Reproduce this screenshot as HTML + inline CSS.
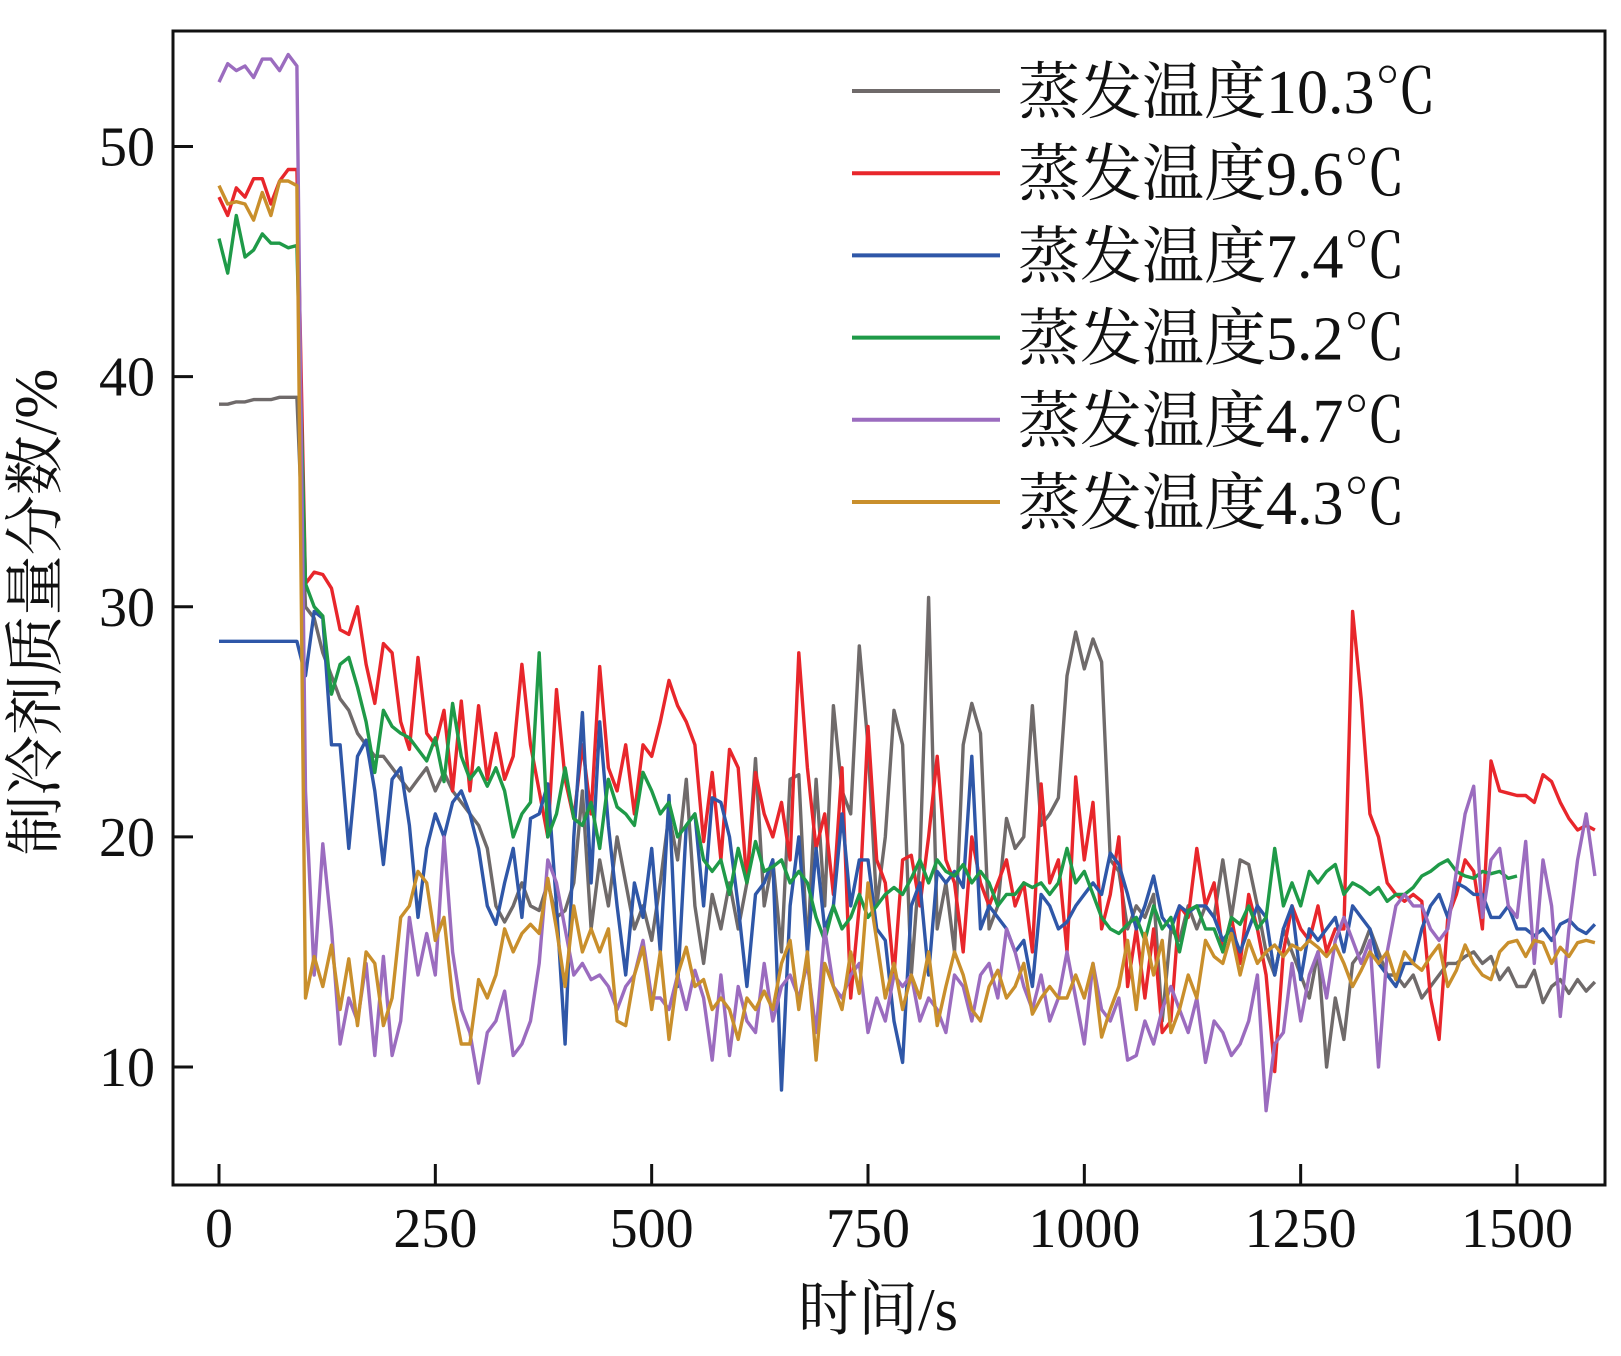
<!DOCTYPE html>
<html><head><meta charset="utf-8"><style>
html,body{margin:0;padding:0;background:#fff;}
svg{display:block;}
text{font-family:"Liberation Serif","Noto Serif CJK SC",serif;fill:#111;}
</style></head><body>
<svg id="chart" width="1621" height="1356" viewBox="0 0 1621 1356">
<rect x="0" y="0" width="1621" height="1356" fill="#fff"/>
<g id="series"></g>
<g id="axes"></g>
<g id="legend"></g>
</svg>
<script>
const xTicks=[0,250,500,750,1000,1250,1500];
const yTicks=[10,20,30,40,50];
const seriesNames=["蒸发温度10.3℃","蒸发温度9.6℃","蒸发温度7.4℃","蒸发温度5.2℃","蒸发温度4.7℃","蒸发温度4.3℃"];
const timeStep=10;
const gray=[38.8,38.8,38.9,38.9,39,39,39,39.1,39.1,39.1,30,29.5,28,27,26,25.5,24.5,24,23.5,23.5,23,22.5,22,22.5,23,22,22.8,22,21.5,21,20.5,19.5,17,16.3,17,18,17,16.8,18,16.5,16.8,18,22,16,19,17,20,18,16,17,15.5,18,21,19,22.5,17,14.5,17.5,16,18,16,18,23.4,17,19,15,22.5,22.7,15,22.5,17,25.7,22,21,28.3,24,17,20,25.5,24,14,19,30.4,16,18,15,24,25.8,24.5,16,17,20.8,19.5,20,25.7,20.5,21,21.7,27,28.9,27.3,28.6,27.6,19,18.5,16,17,16.5,17.5,12,16,15.5,17,16,17,16.5,19,16.5,19,18.8,17,15,14,16,15,14,13,15,10,13,11.2,14.5,15,16,15,14,14,13.5,14,13,13.5,14,14.5,14.5,14.8,15,14.5,14.8,13.8,14.3,13.5,13.5,14.2,12.8,13.5,13.8,13.2,13.8,13.3,13.7];
const red=[47.8,47,48.2,47.8,48.6,48.6,47.5,48.5,49,49,31,31.5,31.4,30.8,29,28.8,30,27.5,25.8,28.4,28,25,23.8,27.8,24.5,24,25.5,22,25.9,22,25.7,22.5,24.5,22.5,23.5,27.5,24,22,20,26.4,22.5,20.8,24,21,27.4,23,22,24,21,24,23.5,25,26.8,25.7,25,24,19.8,22.8,19,23.8,23,18,22.8,21,20,21.5,19,28,23,19.5,21,17.5,23,13,17,24.8,19,18,14,19,19.2,17,20,23.5,19,18,15,20,18,17,18,19,17,18,15,22.3,18,19,15,22.6,19,21.5,16,17.5,20,13.5,16,13,16,11.5,12,17,16.5,19.5,17,18,15,16.5,14.5,17.5,16,14,9.8,15,17,16,15.5,17,15,16,16,29.8,26,21,20,18,17.5,17.2,17.5,17.2,13,11.2,16.5,17.5,19,18.5,16,23.3,22,21.9,21.8,21.8,21.5,22.7,22.4,21.5,20.8,20.3,20.5,20.3];
const blue=[28.5,28.5,28.5,28.5,28.5,28.5,28.5,28.5,28.5,28.5,27,29.8,29.5,24,24,19.5,23.5,24.2,22,18.8,22.5,23,20.5,16.5,19.5,21,20,21.5,22,21,19.5,17,16.2,18,19.5,16.5,20.8,21,22.3,17,11,20,25.4,18,25,20.5,17,14,18,16.5,19.5,15,21.8,13.5,20.5,21,17,21.7,21.5,20,17,13.5,17.5,18,19,9,17,20,15,19.5,16,17,21,17,19,19,16,15.5,12,10.2,17,18,14,18.5,18,18.5,17.8,23.5,16,17,16.5,16,15,15.5,13.5,17.5,17,16,16.3,17,17.5,18,17.5,19.3,18.8,17.5,16,17,18.3,16.5,16,17,16.7,17,17,16.5,15.5,16,15,16,17,16.5,14,16,17,13.8,16,15.5,16,16.5,15,17,16.5,16,14.5,14,13.5,14.5,14.5,16,17,17.5,16.5,18,17.8,17.5,17.5,16.5,16.5,17,16,16,15.7,16,15.5,16.2,16.4,16,15.8,16.2];
const green=[46,44.5,47,45.2,45.5,46.2,45.8,45.8,45.6,45.7,31,30,29.6,26.2,27.5,27.8,26.5,25,22.8,25.5,24.8,24.5,24.3,23.8,23.3,24.3,22.4,25.8,23.5,22.5,23,22.2,23,22,20,21,21.5,28,20,21,23,20.8,20.5,21.5,19.5,22.5,21.3,21,20.5,22.8,22,21,21.5,20,20.5,21,19,18.5,19,17.5,19.5,18,19.8,18.5,18.7,19,18,18.5,18,16.5,15.5,17,16,16.5,17.5,16.5,17,17.5,17.8,17.5,18.2,19,18,19,18.5,18.3,18.8,18,18.5,18,17,17.5,17.5,18,17.8,18,17.5,18,19.5,18,18.5,17.5,16.5,16,15.8,16.2,16.5,15.5,17,16,16.5,15,16.8,17,16,16,15,16.5,16.2,17,16,16.5,19.5,17,18,17,18.5,18,18.5,18.8,17.5,18,17.8,17.5,17.8,17.2,17.5,17.5,17.8,18.3,18.5,18.8,19,18.5,18.3,18.2,18.5,18.4,18.5,18.2,18.3];
const purple=[52.8,53.6,53.3,53.5,53,53.8,53.8,53.3,54,53.5,22,14,19.7,16,11,13,12,14.5,10.5,14.8,10.5,12,16.5,14,15.8,14,20,15,12.5,11.5,9.3,11.5,12,13.3,10.5,11,12,14.5,19,18,16,14,14.5,13.8,14,13.5,12.5,13.5,14,15.5,13,13,12.5,14,12.5,14.2,13,10.3,14,10.5,13.5,12,11.5,14.5,12,13.5,14,13,14.5,11.5,16,13.5,13,14,14.5,11.5,13,12,14,13.5,14,12,13,12.5,11.5,14,13.5,12,14,14.5,13,16,15,13.5,12.5,14,12,13,15,13,11,14.5,12.5,12,13,10.3,10.5,12,11,12.5,13.5,12.5,11.5,13,10.2,12,11.5,10.5,11,12,14,8.1,11,11.5,14.5,12,14,15,13,15.5,16.5,15.5,14.5,15.5,10,15,17,17.5,17,17,16,15.5,16,18.5,21,22.2,16.5,19,19.5,17,16.5,19.8,14.5,19,17,12.2,16,19,21,18.3];
const orange=[48.3,47.5,47.6,47.5,46.8,48,47,48.5,48.5,48.3,13,14.8,13.5,15.3,12.5,14.7,11.8,15,14.5,11.8,13,16.5,17,18.5,18,15.5,16.5,13,11,11,13.8,13,14,16,15,15.8,16.2,15.8,18.2,16,13.5,17,15,16,15,16,12,11.8,14,15.2,12.5,15,11.2,14,15.2,13.5,13.8,12.5,13,12.5,11.2,13,12.5,13.3,12.5,14.5,15.5,12.5,15,10.3,14.5,13.5,12.5,15,13.2,18,15.5,13,14.5,12.5,14,13,15,11.8,13.5,15,14,12.5,12,13.5,14.2,13,13.5,14.5,12.3,13,13.5,13,13,14,13,14.5,11.3,12.5,13.5,15.5,12.5,15.8,14,15.5,11.5,12.5,14,13,15.5,14.8,14.5,15.8,14,15.5,14.5,15,15.3,14.8,15.3,15.1,15.5,15.2,14.8,15.3,14.5,13.5,14.2,15,14.5,15,13.8,15,14.5,14.2,14.8,15.3,13.5,14.2,15.3,14.5,14,13.8,15,15.4,15.5,14.8,15.5,15.4,14.5,15.2,14.8,15.4,15.5,15.4];
const colors=["#6f6a6a","#e8262b","#2f57a8","#1f9a48","#9b6cbf","#c98f2c"];

const L=173,R=1605,T=31,B=1185;
function xs(t){return 219+t*(1517-219)/1500;}
function ys(v){return 146.5+(50-v)*(1067-146.5)/40;}
const NS="http://www.w3.org/2000/svg";
function mk(tag,attrs,parent){const e=document.createElementNS(NS,tag);for(const k in attrs)e.setAttribute(k,attrs[k]);parent.appendChild(e);return e;}

const sg=document.getElementById('series');
const allSeries=[gray,red,blue,green,purple,orange];
const seriesKeys=["gray","red","blue","green","purple","orange"];
allSeries.forEach((arr,si)=>{
  const pts=arr.map((v,i)=>xs(i*timeStep).toFixed(1)+","+ys(v).toFixed(1)).join(" ");
  const p=mk('polyline',{points:pts,fill:'none',stroke:colors[si],'stroke-width':3.4,'stroke-linejoin':'round'},sg);
  
  
});

const ax=document.getElementById('axes');
const frame=mk('rect',{x:L,y:T,width:R-L,height:B-T,fill:'none',stroke:'#111','stroke-width':3},ax);


yTicks.forEach(v=>{
  const y=ys(v);
  const tk=mk('line',{x1:L,x2:L+20,y1:y,y2:y,stroke:'#111','stroke-width':3},ax);
  
  
  const tx=mk('text',{x:L-18,y:y+19,'text-anchor':'end','font-size':56},ax);
  tx.textContent=v;
  
  
});
xTicks.forEach(t=>{
  const x=xs(t);
  const tk=mk('line',{x1:x,x2:x,y1:B,y2:B-21,stroke:'#111','stroke-width':3},ax);
  
  
  const tx=mk('text',{x:x,y:1247,'text-anchor':'middle','font-size':56},ax);
  tx.textContent=t;
  
  
});
const xt=mk('text',{x:878,y:1330,'text-anchor':'middle','font-size':60},ax);
xt.textContent="时间/s";


const yt=mk('text',{x:0,y:0,'text-anchor':'middle','font-size':60,transform:'translate(56,612) rotate(-90)'},ax);
yt.textContent="制冷剂质量分数/%";



const lg=document.getElementById('legend');
seriesNames.forEach((name,i)=>{
  const y=91+i*82.2;
  const g=mk('g',{},lg);
  
  
  mk('line',{x1:852,x2:1000,y1:y,y2:y,stroke:colors[i],'stroke-width':4},g);
  const tx=mk('text',{x:1018,y:y+22,'font-size':62},g);
  tx.textContent=name;
});
</script>
</body></html>
